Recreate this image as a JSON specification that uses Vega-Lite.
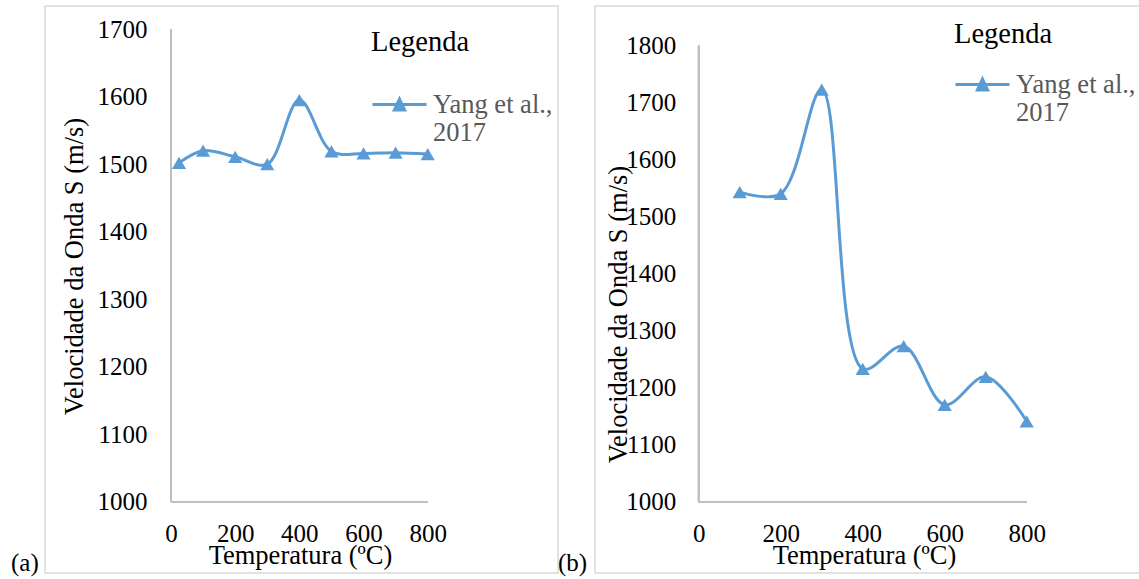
{
  "$schema": "https://vega.github.io/schema/vega-lite/v6.json",
  "padding": {"left": 10, "top": 5, "right": 0, "bottom": 0},
  "autosize": {"type": "pad"},
  "bounds": "flush",
  "spacing": 37,
  "resolve": {"scale": {"color": "independent"}, "legend": {"color": "independent"}},
  "config": {
    "font": "Liberation Serif",
    "style": {
      "guide-label": {"font": "Liberation Serif", "fontSize": 25, "fill": "#000000"},
      "guide-title": {"font": "Liberation Serif", "fontSize": 26.5, "fontWeight": "normal", "fill": "#000000"}
    },
    "view": {"stroke": "#D9D9D9", "strokeWidth": 1.5},
    "axis": {
      "labelFont": "Liberation Serif",
      "titleFont": "Liberation Serif",
      "labelFontSize": 25,
      "titleFontSize": 26.5,
      "labelColor": "#000000",
      "titleColor": "#000000",
      "titleFontWeight": "normal",
      "domain": false,
      "ticks": false,
      "tickSize": 0,
      "grid": false,
      "format": "d",
      "labelFlush": false,
      "labelOverlap": false,
      "titleBaseline": "alphabetic"
    },
    "legend": {
      "orient": "none",
      "titleFont": "Liberation Serif",
      "labelFont": "Liberation Serif",
      "titleFontSize": 28.5,
      "titleFontWeight": "normal",
      "titleColor": "#000000",
      "labelFontSize": 26.5,
      "labelColor": "#595959",
      "labelLimit": 0,
      "labelOffset": 5,
      "padding": 0,
      "symbolType": "M-1,0L1,0M0,-0.2L0.19,0.2L-0.19,0.2Z",
      "symbolSize": 2916,
      "symbolStrokeWidth": 3,
      "symbolStrokeColor": "#5B9BD5",
      "symbolFillColor": "#5B9BD5",
      "symbolOpacity": 1
    },
    "title": {"font": "Liberation Serif", "fontSize": 25, "fontWeight": "normal", "color": "#000000"}
  },
  "datasets": {
    "painel_a": [
      {"temperatura": 25, "velocidade": 1502, "serie": "Yang et al., 2017"},
      {"temperatura": 100, "velocidade": 1520, "serie": "Yang et al., 2017"},
      {"temperatura": 200, "velocidade": 1511, "serie": "Yang et al., 2017"},
      {"temperatura": 300, "velocidade": 1500, "serie": "Yang et al., 2017"},
      {"temperatura": 400, "velocidade": 1595, "serie": "Yang et al., 2017"},
      {"temperatura": 500, "velocidade": 1519, "serie": "Yang et al., 2017"},
      {"temperatura": 600, "velocidade": 1516, "serie": "Yang et al., 2017"},
      {"temperatura": 700, "velocidade": 1517, "serie": "Yang et al., 2017"},
      {"temperatura": 800, "velocidade": 1515, "serie": "Yang et al., 2017"}
    ],
    "painel_b": [
      {"temperatura": 100, "velocidade": 1543, "serie": "Yang et al., 2017"},
      {"temperatura": 200, "velocidade": 1540, "serie": "Yang et al., 2017"},
      {"temperatura": 300, "velocidade": 1723, "serie": "Yang et al., 2017"},
      {"temperatura": 400, "velocidade": 1233, "serie": "Yang et al., 2017"},
      {"temperatura": 500, "velocidade": 1273, "serie": "Yang et al., 2017"},
      {"temperatura": 600, "velocidade": 1170, "serie": "Yang et al., 2017"},
      {"temperatura": 700, "velocidade": 1219, "serie": "Yang et al., 2017"},
      {"temperatura": 800, "velocidade": 1141, "serie": "Yang et al., 2017"}
    ]
  },
  "hconcat": [
    {
      "width": 513,
      "height": 567,
      "title": {"text": "(a)", "orient": "bottom", "anchor": "start", "frame": "group", "baseline": "alphabetic", "dx": -34, "offset": -2},
      "data": {"name": "painel_a"},
      "encoding": {
        "x": {
          "field": "temperatura", "type": "quantitative",
          "scale": {"domain": [-392.7, 1206.1], "nice": false, "zero": false},
          "axis": {"title": "Temperatura (ºC)", "values": [0, 200, 400, 600, 800], "offset": -71.3, "labelPadding": 40, "labelBaseline": "alphabetic", "titleX": 255, "titleY": 61.3, "labelFont": "Liberation Serif", "titleFont": "Liberation Serif"}
        },
        "y": {
          "field": "velocidade", "type": "quantitative",
          "scale": {"domain": [894.4, 1734.4], "nice": false, "zero": false},
          "axis": {"title": "Velocidade da Onda S (m/s)", "values": [1000, 1100, 1200, 1300, 1400, 1500, 1600, 1700], "offset": -126, "labelPadding": 24, "titleX": -89, "titleY": 260, "titleAngle": 270, "titleAlign": "center", "labelFont": "Liberation Serif", "titleFont": "Liberation Serif"}
        }
      },
      "layer": [
        {
          "mark": {"type": "rule", "color": "#BFBFBF", "strokeWidth": 1.5},
          "encoding": {"x": {"datum": 0}, "y": {"datum": 1000}, "y2": {"datum": 1700}}
        },
        {
          "mark": {"type": "rule", "color": "#BFBFBF", "strokeWidth": 1.5},
          "encoding": {"x": {"datum": 0}, "x2": {"datum": 800}, "y": {"datum": 1000}}
        },
        {
          "mark": {"type": "line", "interpolate": "catmull-rom", "strokeWidth": 3, "color": "#5B9BD5"},
          "encoding": {
            "color": {
              "field": "serie", "type": "nominal",
              "scale": {"range": ["#5B9BD5"]},
              "legend": {"title": "Legenda", "legendX": 326, "legendY": 21.5, "titlePadding": 20, "labelExpr": "['Yang et al.,', '2017']"}
            }
          }
        },
        {
          "mark": {"type": "point", "shape": "triangle-up", "filled": true, "size": 200, "opacity": 1, "color": "#5B9BD5"},
          "encoding": {}
        }
      ]
    },
    {
      "width": 547,
      "height": 567,
      "title": {"text": "(b)", "orient": "bottom", "anchor": "start", "frame": "group", "baseline": "alphabetic", "dx": -37, "offset": -2},
      "data": {"name": "painel_b"},
      "encoding": {
        "x": {
          "field": "temperatura", "type": "quantitative",
          "scale": {"domain": [-252.9, 1081.2], "nice": false, "zero": false},
          "axis": {"title": "Temperatura (ºC)", "values": [0, 200, 400, 600, 800], "offset": -71.3, "labelPadding": 40, "labelBaseline": "alphabetic", "titleX": 269, "titleY": 61.3, "labelFont": "Liberation Serif", "titleFont": "Liberation Serif"}
        },
        "y": {
          "field": "velocidade", "type": "quantitative",
          "scale": {"domain": [874.9, 1869.6], "nice": false, "zero": false},
          "axis": {"title": "Velocidade da Onda S (m/s)", "values": [1000, 1100, 1200, 1300, 1400, 1500, 1600, 1700, 1800], "offset": -103.7, "labelPadding": 23, "titleX": -72, "titleY": 308, "titleAngle": 270, "titleAlign": "center", "labelFont": "Liberation Serif", "titleFont": "Liberation Serif"}
        }
      },
      "layer": [
        {
          "mark": {"type": "rule", "color": "#BFBFBF", "strokeWidth": 1.5},
          "encoding": {"x": {"datum": 0}, "y": {"datum": 1000}, "y2": {"datum": 1800}}
        },
        {
          "mark": {"type": "rule", "color": "#BFBFBF", "strokeWidth": 1.5},
          "encoding": {"x": {"datum": 0}, "x2": {"datum": 800}, "y": {"datum": 1000}}
        },
        {
          "mark": {"type": "line", "interpolate": "catmull-rom", "strokeWidth": 3, "color": "#5B9BD5"},
          "encoding": {
            "color": {
              "field": "serie", "type": "nominal",
              "scale": {"range": ["#5B9BD5"]},
              "legend": {"title": "Legenda", "legendX": 359, "legendY": 14.2, "titlePadding": 7.3, "labelExpr": "['Yang et al.,', '2017']"}
            }
          }
        },
        {
          "mark": {"type": "point", "shape": "triangle-up", "filled": true, "size": 200, "opacity": 1, "color": "#5B9BD5"},
          "encoding": {}
        }
      ]
    }
  ]
}
